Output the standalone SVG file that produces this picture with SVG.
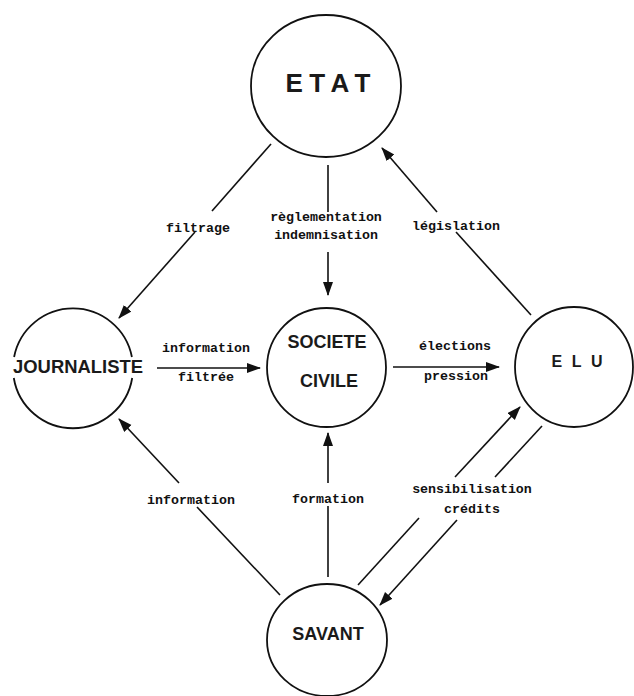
<svg xmlns="http://www.w3.org/2000/svg" width="634" height="696" viewBox="0 0 634 696">
<defs>
<marker id="ah" markerUnits="userSpaceOnUse" markerWidth="16" markerHeight="12" refX="13" refY="5" orient="auto">
<path d="M0,0 L14,5 L0,10 Z" fill="#111"/>
</marker>
<style>
.node{fill:none;stroke:#111;stroke-width:1.8}
.edge{stroke:#111;stroke-width:1.6;fill:none}
.nt{font-family:"Liberation Sans",Arial,sans-serif;font-weight:bold;fill:#1a1a1a;text-anchor:middle}
.lb{font-family:"Liberation Mono","Courier New",monospace;font-weight:bold;font-size:13.3px;fill:#111;text-anchor:middle}
</style>
</defs>
<rect width="634" height="696" fill="#fff"/>

<g id="etat">
<ellipse class="node" cx="326" cy="86" rx="75" ry="71"/>
<text class="nt" x="328" y="92" font-size="26" textLength="85" lengthAdjust="spacing">E T A T</text>
</g>

<g id="journaliste">
<path class="node" d="M14.1,357 A60,60 0 0 1 131.9,357 M13.8,378 A60,60 0 0 0 132.2,378"/>
<text class="nt" x="78" y="373" font-size="18" textLength="130" lengthAdjust="spacingAndGlyphs">JOURNALISTE</text>
</g>

<g id="societe">
<ellipse class="node" cx="326.5" cy="367.5" rx="59.5" ry="59.5"/>
<text class="nt" x="327" y="348" font-size="18">SOCIETE</text>
<text class="nt" x="329" y="387" font-size="18">CIVILE</text>
</g>

<g id="elu">
<ellipse class="node" cx="574" cy="367" rx="59" ry="60"/>
<text class="nt" x="577" y="367" font-size="16" textLength="51" lengthAdjust="spacing">E L U</text>
</g>

<g id="savant">
<ellipse class="node" cx="327" cy="640" rx="60" ry="56"/>
<text class="nt" x="328" y="640" font-size="18">SAVANT</text>
</g>

<g id="connectors">
<line class="edge" x1="271" y1="144" x2="212" y2="211"/>
<line class="edge" x1="195" y1="232" x2="119" y2="318" marker-end="url(#ah)"/>
<text class="lb" x="198" y="232">filtrage</text>

<line class="edge" x1="328" y1="165" x2="328" y2="212"/>
<line class="edge" x1="328" y1="252" x2="328" y2="295" marker-end="url(#ah)"/>
<text class="lb" x="326" y="221">règlementation</text>
<text class="lb" x="326" y="239">indemnisation</text>

<line class="edge" x1="531" y1="315" x2="456" y2="232"/>
<line class="edge" x1="437" y1="212" x2="382" y2="148" marker-end="url(#ah)"/>
<text class="lb" x="456" y="230">législation</text>

<line class="edge" x1="157" y1="368" x2="260" y2="368" marker-end="url(#ah)"/>
<text class="lb" x="206" y="352">information</text>
<text class="lb" x="206" y="381">filtrée</text>

<line class="edge" x1="393" y1="367" x2="499" y2="367" marker-end="url(#ah)"/>
<text class="lb" x="455" y="350">élections</text>
<text class="lb" x="456" y="380">pression</text>

<line class="edge" x1="280" y1="595" x2="197" y2="507"/>
<line class="edge" x1="179" y1="483" x2="119" y2="419" marker-end="url(#ah)"/>
<text class="lb" x="191" y="504">information</text>

<line class="edge" x1="328" y1="577" x2="328" y2="506"/>
<line class="edge" x1="328" y1="483" x2="328" y2="433" marker-end="url(#ah)"/>
<text class="lb" x="328" y="503">formation</text>

<line class="edge" x1="358" y1="585" x2="419" y2="518"/>
<line class="edge" x1="455" y1="477" x2="520" y2="407" marker-end="url(#ah)"/>

<line class="edge" x1="542" y1="426" x2="495" y2="477"/>
<line class="edge" x1="457" y1="520" x2="380" y2="605" marker-end="url(#ah)"/>
<text class="lb" x="472" y="493">sensibilisation</text>
<text class="lb" x="472" y="513">crédits</text>
</g>
</svg>
